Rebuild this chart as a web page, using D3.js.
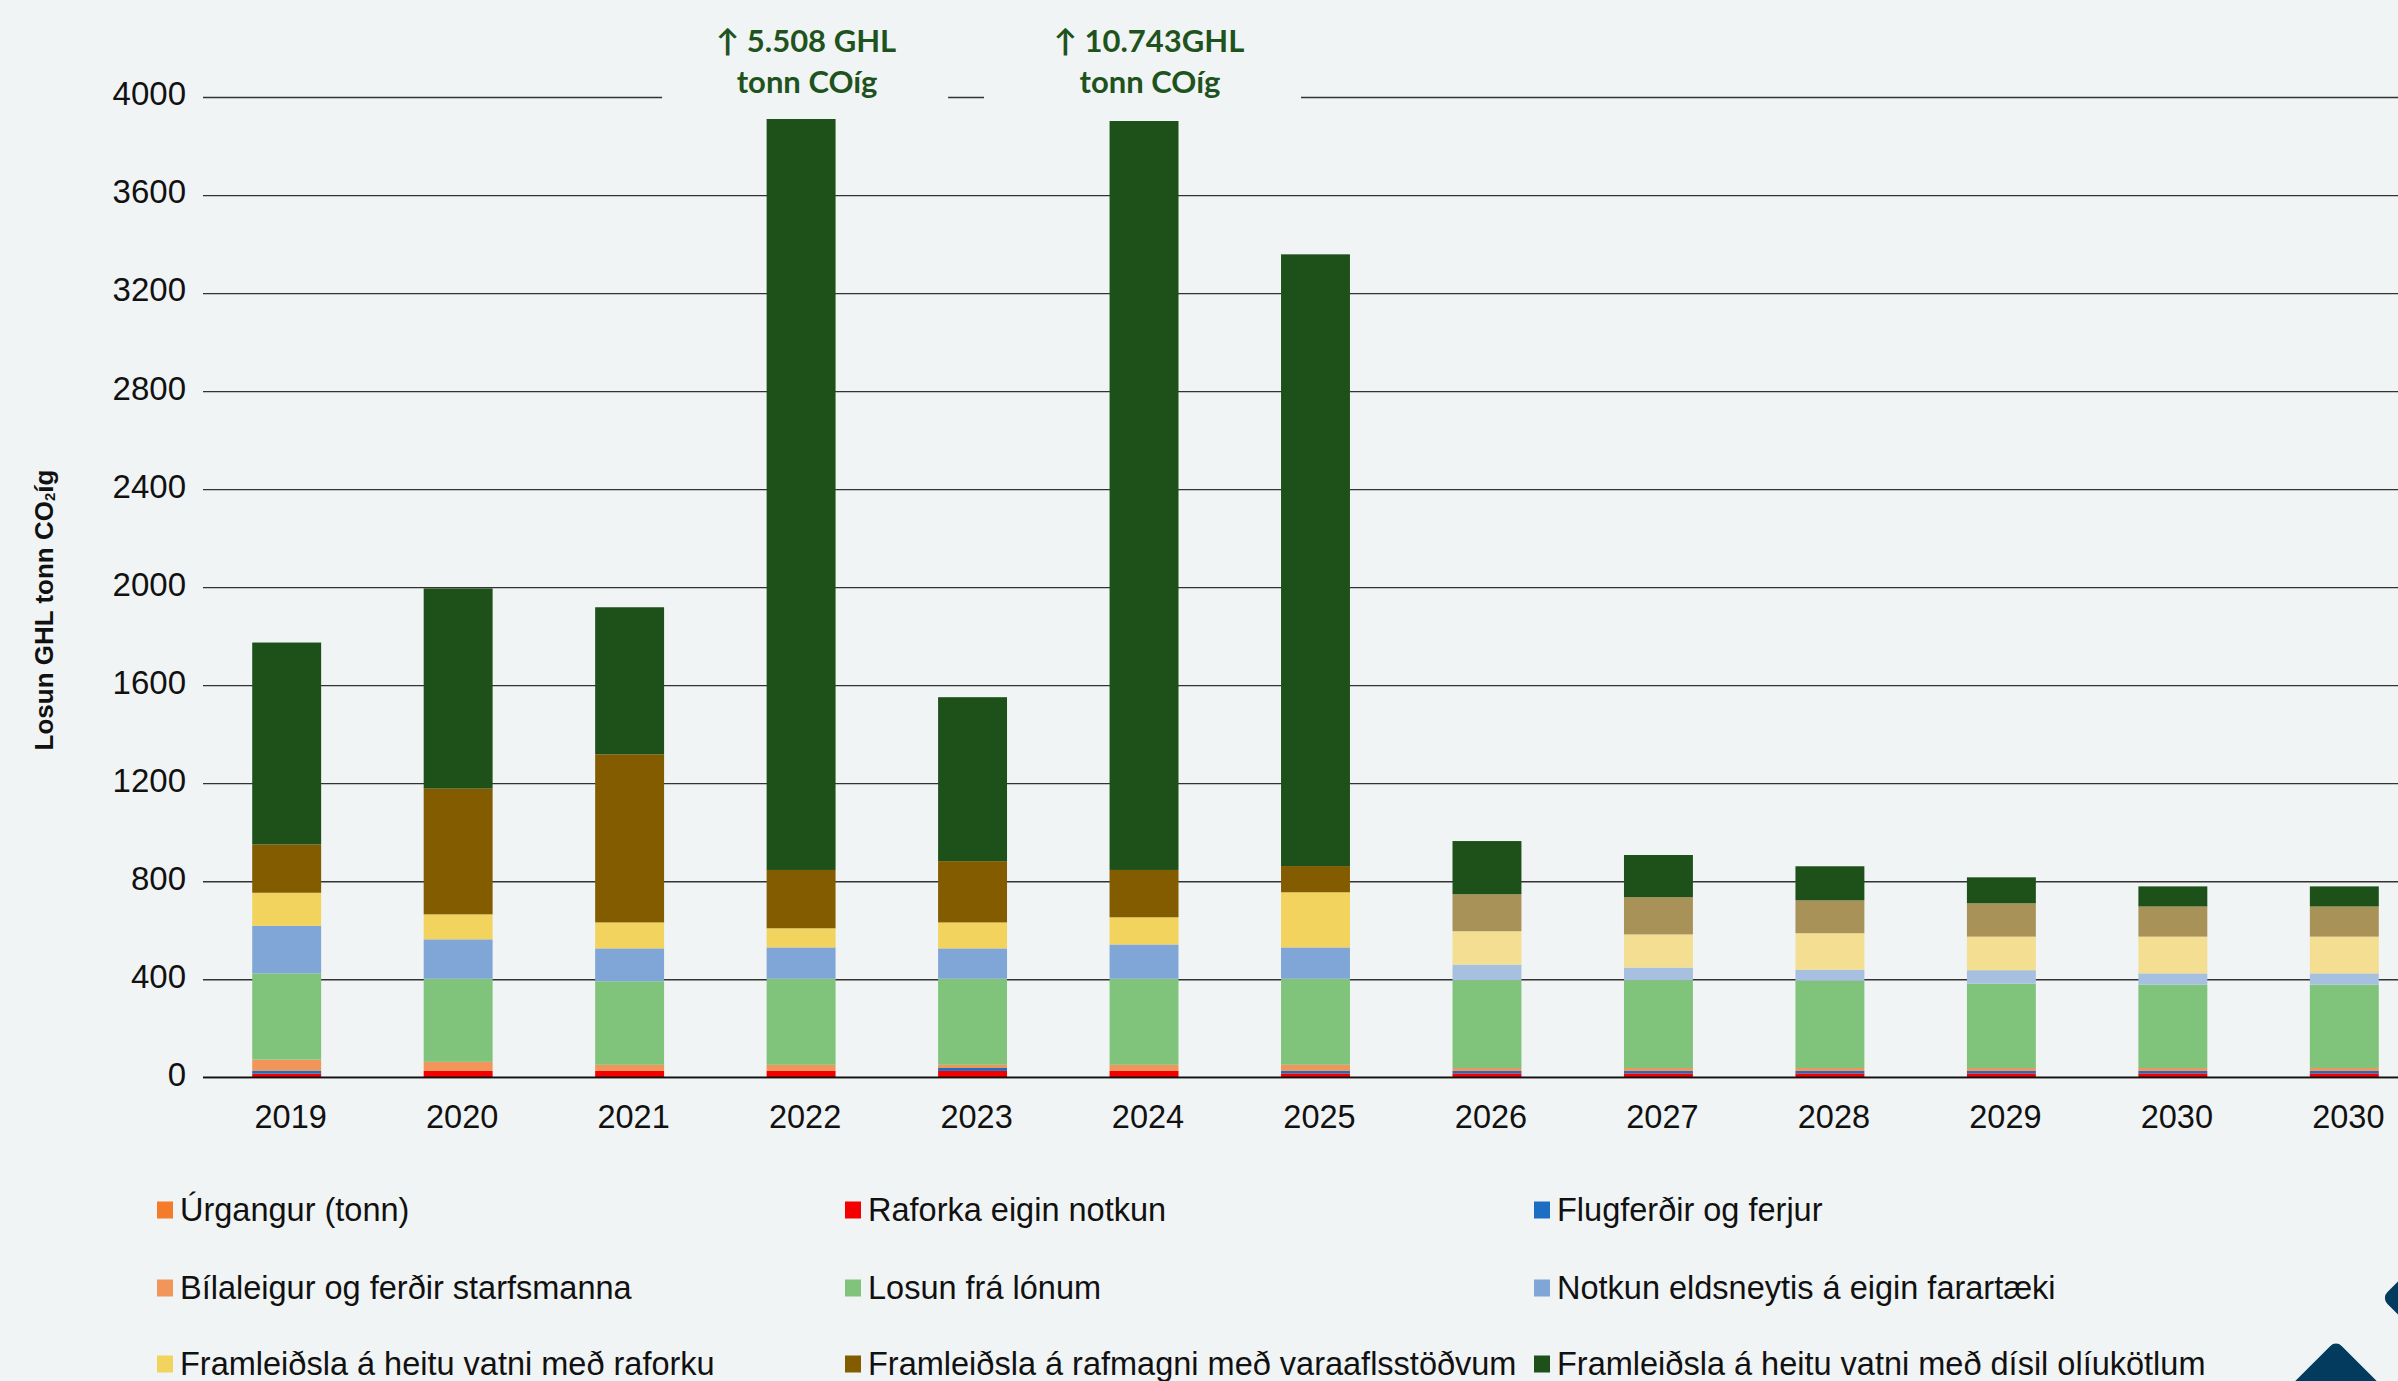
<!DOCTYPE html>
<html>
<head>
<meta charset="utf-8">
<script src="https://cdn.jsdelivr.net/npm/d3@7"></script>
<style>
  html, body { margin: 0; padding: 0; background: #f1f4f5; }
  svg { display: block; }
</style>
</head>
<body>
<svg id="chart" width="2398" height="1381"></svg>
<script>
// ---------------- DATA ----------------
const years = ["2019", "2020", "2021", "2022", "2023", "2024", "2025", "2026", "2027", "2028", "2029", "2030", "2030"];
// true = projected year (drawn with lighter shades for some series)
const projected = [false, false, false, false, false, false, false, true, true, true, true, true, true];

const seriesNames = [
  "Úrgangur (tonn)",
  "Raforka eigin notkun",
  "Flugferðir og ferjur",
  "Bílaleigur og ferðir starfsmanna",
  "Losun frá lónum",
  "Notkun eldsneytis á eigin farartæki",
  "Framleiðsla á heitu vatni með raforku",
  "Framleiðsla á rafmagni með varaaflsstöðvum",
  "Framleiðsla á heitu vatni með dísil olíukötlum"
];

const urgangur   = [0, 0, 0, 0, 0, 0, 0, 0, 0, 0, 0, 0, 0];
const raforka    = [15, 26, 26, 26, 26, 26, 16, 16, 16, 16, 16, 16, 16];
const flugferdir = [11, 0, 0, 0, 12, 0, 10, 10, 10, 10, 10, 10, 10];
const bilaleigur = [46, 37, 25, 25, 13, 25, 25, 12, 12, 12, 12, 12, 12];
const losunLonum = [352, 339, 341, 351, 351, 351, 351, 358, 358, 356, 344, 340, 340];
const eldsneyti  = [194, 161, 134, 128, 124, 140, 128, 64, 52, 45, 55, 46, 46];
const heittRaf   = [135, 102, 106, 78, 106, 111, 225, 136, 135, 149, 137, 150, 150];
const varaafl    = [197, 513, 686, 238, 250, 193, 107, 151, 152, 134, 136, 123, 123];
const disil      = [824, 817, 600, 4662, 669, 9897, 2496, 217, 172, 139, 106, 82, 82];

const yTicks = [0, 400, 800, 1200, 1600, 2000, 2400, 2800, 3200, 3600, 4000];

const annotations = [
  { index: 3, lines: ["↑ 5.508 GHL", "tonn COíg"] },
  { index: 5, lines: ["↑ 10.743GHL", "tonn COíg"] }
];

// ---------------- STYLE ----------------
const colors      = ["#f47b2a", "#f40000", "#1b6ec2", "#f2955a", "#80c47c", "#7fa6d7", "#f1d35d", "#835c00", "#1d5119"];
const lightColors = ["#f47b2a", "#f40000", "#1b6ec2", "#f2955a", "#80c47c", "#a7c0e0", "#f3de91", "#a99257", "#1d5119"];
const FONT = "'Liberation Sans', Arial, sans-serif";
const W = 2398, H = 1381;
const left = 203, baseY = 1077.3, topY = 97;

const seriesData = [urgangur, raforka, flugferdir, bilaleigur, losunLonum, eldsneyti, heittRaf, varaafl, disil];
const keys = seriesNames.map((d, i) => "s" + i);
const rows = years.map((yr, i) => {
  const r = { i: i, year: yr };
  keys.forEach((k, j) => r[k] = seriesData[j][i]);
  return r;
});

const svg = d3.select("#chart");
svg.append("rect").attr("width", W).attr("height", H).attr("fill", "#f1f4f5");

const x = d3.scaleBand()
  .domain(d3.range(years.length))
  .range([left, 2428])
  .paddingInner(0.598)
  .paddingOuter(0.287);

const y = d3.scaleLinear().domain([0, 4000]).range([baseY, topY]);

// gridlines + y labels
const yAxis = d3.axisLeft(y).tickValues(yTicks).tickFormat(d3.format("d"))
  .tickSize(-(W - left)).tickPadding(17);
const gy = svg.append("g").attr("transform", `translate(${left},0)`).call(yAxis);
gy.select(".domain").remove();
gy.selectAll(".tick line").attr("stroke", "#333").attr("stroke-width", 1.3);
gy.selectAll(".tick text")
  .attr("font-family", FONT).attr("font-size", 33).attr("fill", "#111").attr("dy", "0.24em");

// stacked bars
const stack = d3.stack().keys(keys);
const stacked = stack(rows);
const barsG = svg.append("g");
stacked.forEach((layer, si) => {
  barsG.selectAll(null)
    .data(layer)
    .enter().append("rect")
    .attr("x", d => x(d.data.i))
    .attr("width", x.bandwidth())
    .attr("y", d => y(d[1]))
    .attr("height", d => Math.max(0, y(d[0]) - y(d[1])))
    .attr("fill", d => projected[d.data.i] ? lightColors[si] : colors[si]);
});

// zero line on top
svg.append("line")
  .attr("x1", left).attr("x2", W)
  .attr("y1", y(0)).attr("y2", y(0))
  .attr("stroke", "#111").attr("stroke-width", 1.6);

// x axis labels
const xAxis = d3.axisBottom(x).tickSize(0).tickPadding(28).tickFormat(i => years[i]);
const gx = svg.append("g").attr("transform", `translate(4,${baseY})`).call(xAxis);
gx.select(".domain").remove();
gx.selectAll(".tick text").attr("font-family", FONT).attr("font-size", 32.5).attr("fill", "#111");

// annotations (boxes cover the over-tall bars)
const boxExt = [[-139, 147], [-160, 157]];
const boxBottom = [119, 121];
annotations.forEach((a, k) => {
  const cx = x(a.index) + x.bandwidth() / 2;
  svg.append("rect")
    .attr("x", cx + boxExt[k][0]).attr("y", 0)
    .attr("width", boxExt[k][1] - boxExt[k][0]).attr("height", boxBottom[k])
    .attr("fill", "#f1f4f5");
  const t = svg.append("text")
    .attr("text-anchor", "middle")
    .attr("font-family", "Lato, 'Open Sans', sans-serif")
    .attr("font-weight", 700)
    .attr("font-size", 31)
    .attr("fill", "#1f531d");
  a.lines.forEach((ln, li) => {
    t.append("tspan").attr("x", cx + 5 + li * 1).attr("y", 52 + li * 41).text(ln);
  });
});

// y axis title
const yt = svg.append("text")
  .attr("transform", "translate(44,610) rotate(-90)")
  .attr("text-anchor", "middle")
  .attr("dominant-baseline", "central")
  .attr("font-family", FONT).attr("font-weight", 700).attr("font-size", 26).attr("fill", "#111");
yt.append("tspan").text("Losun GHL tonn CO");
yt.append("tspan").attr("font-size", 15).attr("dy", 5).text("2");
yt.append("tspan").attr("dy", -5).text("íg");

// legend
const colX = [157, 845, 1534];
const rowY = [1210, 1288, 1364];
const lg = svg.append("g");
seriesNames.forEach((name, i) => {
  const cx = colX[i % 3], cy = rowY[Math.floor(i / 3)];
  lg.append("rect").attr("x", cx).attr("y", cy - 8.5).attr("width", 16).attr("height", 17).attr("fill", colors[i]);
  lg.append("text").attr("x", cx + 23).attr("y", cy + 11)
    .attr("font-family", FONT).attr("font-size", 32.5).attr("fill", "#111").text(name);
});

// decorative corner shapes
const deco = svg.append("g").attr("fill", "#023b5e");
deco.append("rect").attr("width", 100).attr("height", 100).attr("rx", 8)
  .attr("transform", "translate(2336,1411) rotate(45) translate(-50,-50)");
deco.append("rect").attr("width", 60).attr("height", 60).attr("rx", 8)
  .attr("transform", "translate(2424,1298) rotate(45) translate(-30,-30)");
</script>
</body>
</html>
